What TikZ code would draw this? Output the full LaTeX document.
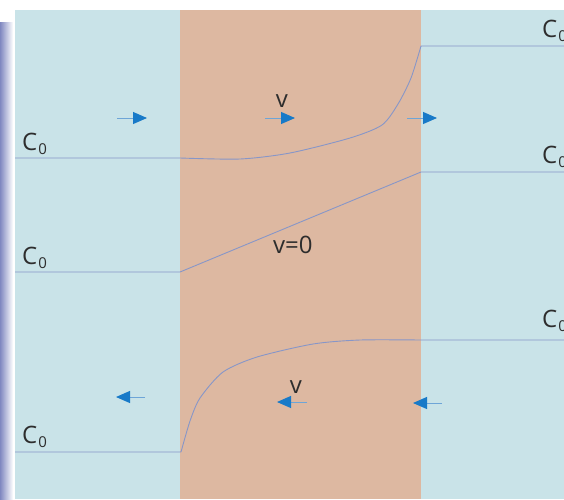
\documentclass[tikz,border=0pt]{standalone}
\usepackage{fontspec}
\setmainfont{Open Sans}
\usepackage{xcolor}
\usetikzlibrary{arrows.meta}

\definecolor{fluid}{RGB}{201,227,232}
\definecolor{membrane}{RGB}{221,184,161}
\definecolor{profile}{RGB}{135,150,200}
\definecolor{flowblue}{RGB}{24,122,200}
\definecolor{shaftblue}{RGB}{110,165,215}
\definecolor{ink}{RGB}{45,45,45}
\definecolor{shadow}{RGB}{128,136,192}

\newcommand{\Czero}{C\kern1pt\raisebox{-4pt}{\fontsize{15}{15}\selectfont 0}}

\begin{document}
\begin{tikzpicture}[x=1pt, y=-1pt,
  conc/.style={draw=profile, line width=0.9pt},
  flow/.style={draw=shaftblue, line width=1pt,
               -{Triangle[length=14pt, width=12pt, color=flowblue]}},
  lbl/.style={anchor=base west, inner sep=0pt, text=ink,
              font=\fontsize{24}{28}\selectfont},
]
  \useasboundingbox (0,0) rectangle (564,499);
  \clip (0,0) rectangle (564,499);

  % Backgrounds
  \shade[left color=shadow, right color=white] (0,22) rectangle (13,499);
  \fill[fluid] (15,10) rectangle (564,499);
  \fill[membrane] (180,10) rectangle (421,499);

  % Concentration profiles
  \draw[conc] (15,158) -- (180,158) plot[smooth, tension=0.45] coordinates
    {(180,158) (240,159) (290,153) (350,138) (382,125)
     (398,104) (411,78) (421,46)} -- (564,46);
  \draw[conc] (15,272) -- (180,272) -- (421,172) -- (564,172);
  \draw[conc] (15,452) -- (181,452) plot[smooth, tension=0.45] coordinates
    {(181,452) (190,421) (200,398) (223,372) (257,357) (313,344)
     (360,340) (421,340)} -- (564,340);

  % Labels
  \node[lbl] (cl1) at (22,150) {\Czero};
  \node[lbl] (cl2) at (22,264) {\Czero};
  \node[lbl] (cl3) at (22,443) {\Czero};
  \node[lbl] (cr1) at (542,37) {\Czero};
  \node[lbl] (cr2) at (542,163) {\Czero};
  \node[lbl] (cr3) at (542,327) {\Czero};
  \node[lbl] (zero) at (273,253) {v=0};
  \node[lbl, anchor=base] (vtop) at (282,107) {v};
  \node[lbl, anchor=base] (vbot) at (296,393) {v};

  % Flow arrows
  \foreach \x in {117,265,407}
    \draw[flow] (\x,118) -- ++(30,0);
  \draw[flow] (145,397) -- (116,397);
  \draw[flow] (307,402) -- (277,402);
  \draw[flow] (442,403) -- (413,403);
\end{tikzpicture}
\end{document}
